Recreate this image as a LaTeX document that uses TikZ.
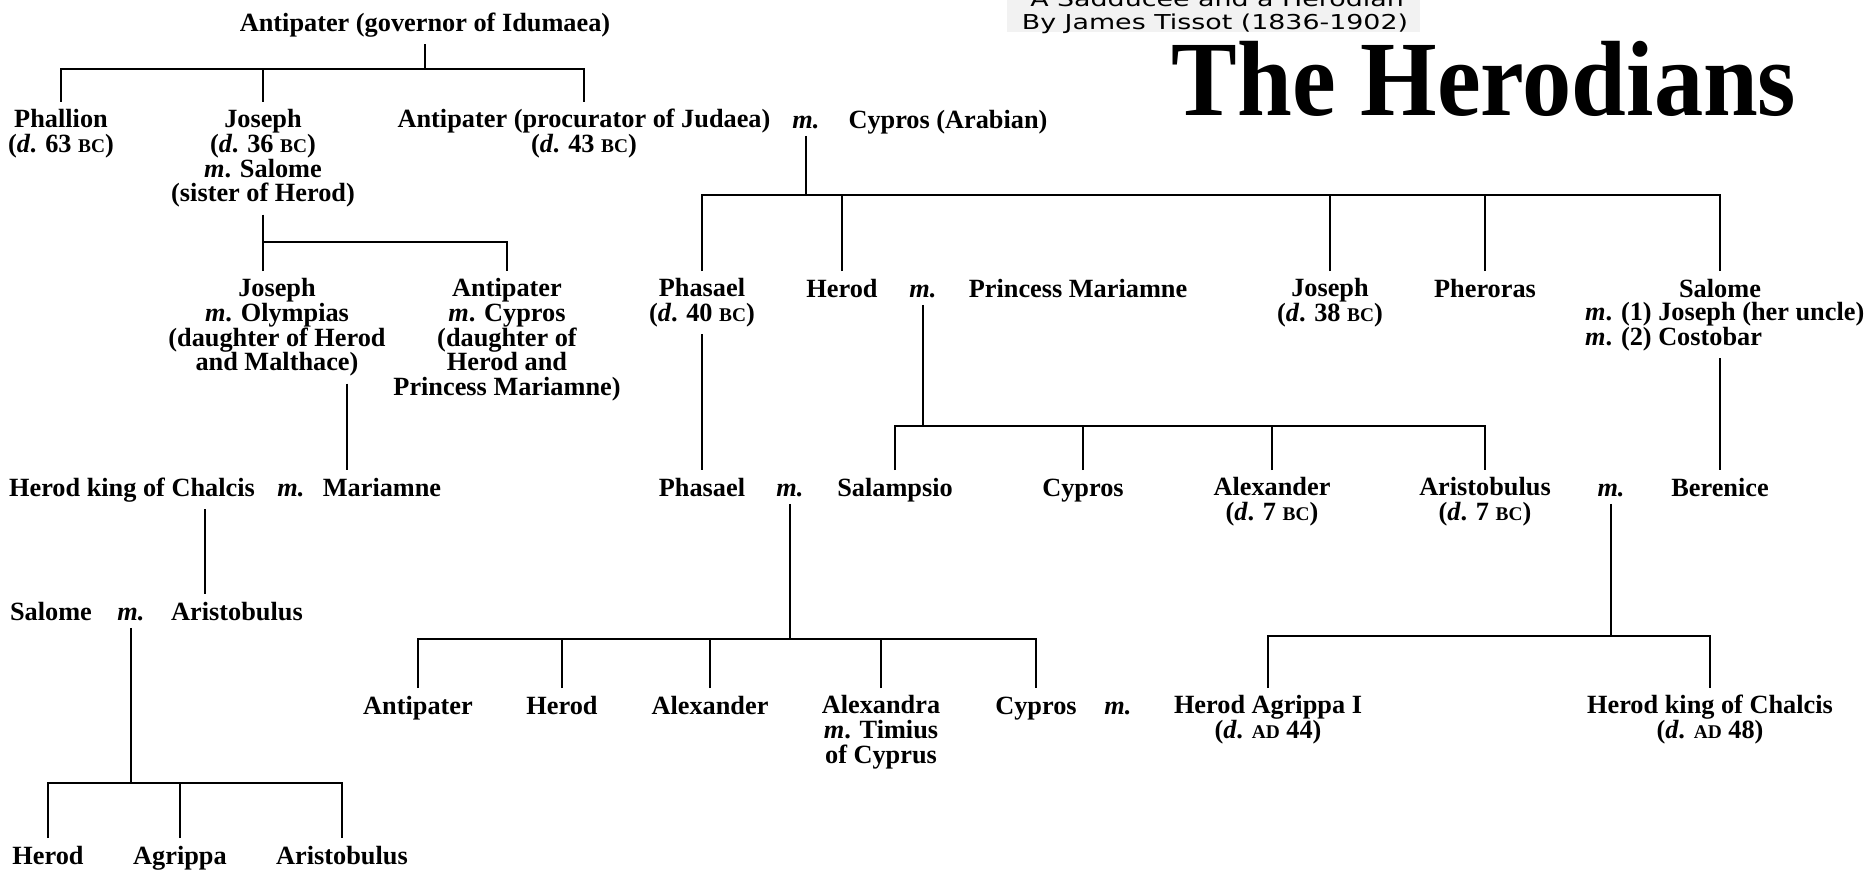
\documentclass[tikz,border=0pt]{standalone}
\usepackage{fontspec}
\setmainfont{Liberation Serif}
\newfontfamily\subfont{DejaVu Sans}
\newcommand\bodyfont{\fontsize{26.3}{24.8}\selectfont\bfseries}
\newcommand\dth{\textit{d}.}
\newcommand\mth{\textit{m}.}
\newcommand\bcx{{\fontsize{19.4}{19.4}\selectfont BC}}
\newcommand\adx{{\fontsize{19.4}{19.4}\selectfont AD}}
\tikzset{
  person/.style={font=\bodyfont, align=center, anchor=north, inner xsep=0pt, inner ysep=7pt, yshift=26pt, execute at begin node={\rule{0pt}{19pt}}},
  marr/.style={person, font=\bodyfont\itshape},
  link/.style={line width=1.8pt},
  subtitle/.style={font=\subfont\fontsize{20.5}{23}\selectfont, anchor=base, inner sep=0pt},
}
\begin{document}
\begin{tikzpicture}[x=1pt,y=-1pt]
\useasboundingbox (0,0) rectangle (1865,872);
\clip (0,0) rectangle (1865,872);
\fill[white] (0,0) rectangle (1865,872);

% title block
\fill[black!5] (1007,0) rectangle (1420,32);
\node[subtitle] (sub1) at (1217,7) {\scalebox{1.31}[1]{A Sadducee and a Herodian}};
\node[subtitle] (sub2) at (1215,30) {\scalebox{1.31}[1]{By James Tissot (1836-1902)}};
\node[font=\fontsize{107}{107}\selectfont\bfseries, anchor=base, inner sep=0pt] (title) at (1484,116) {\scalebox{0.92}[1]{The Herodians}};

% row 0
\node[person] (top) at (425,31) {Antipater (governor of Idumaea)};

% row 1
\node[person] (phal) at (61,128) {Phallion\\(\dth{} 63 \bcx)};
\node[person] (jos1) at (263,128) {Joseph\\(\dth{} 36 \bcx)\\\mth{} Salome\\(sister of Herod)};
\node[person] (antp) at (584,128) {Antipater (procurator of Judaea)\\(\dth{} 43 \bcx)};
\node[marr] (m1) at (806,128) {m.};
\node[person] (cyp1) at (948,128) {Cypros (Arabian)};

% row 2
\node[person] (jos2) at (277,297) {Joseph\\\mth{} Olympias\\(daughter of Herod\\and Malthace)};
\node[person] (antp2) at (507,297) {Antipater\\\mth{} Cypros\\(daughter of\\Herod and\\Princess Mariamne)};
\node[person] (phas1) at (702,297) {Phasael\\(\dth{} 40 \bcx)};
\node[person] (herod) at (842,297) {Herod};
\node[marr] (m2) at (923,297) {m.};
\node[person] (pmar) at (1078,297) {Princess Mariamne};
\node[person] (jos3) at (1330,297) {Joseph\\(\dth{} 38 \bcx)};
\node[person] (pher) at (1485,297) {Pheroras};
\node[person] (sal) at (1720,297) {Salome};
\node[person, anchor=north west, align=left] (salm) at (1585,321) {\mth{} (1) Joseph (her uncle)\\\mth{} (2) Costobar};

% row 3
\node[person] (hkc1) at (132,496) {Herod king of Chalcis};
\node[marr] (m6) at (291,496) {m.};
\node[person] (mar2) at (382,496) {Mariamne};
\node[person] (phas2) at (702,496) {Phasael};
\node[marr] (m3) at (790,496) {m.};
\node[person] (sala) at (895,496) {Salampsio};
\node[person] (cyp3) at (1083,496) {Cypros};
\node[person] (alex3) at (1272,496) {Alexander\\(\dth{} 7 \bcx)};
\node[person] (aris3) at (1485,496) {Aristobulus\\(\dth{} 7 \bcx)};
\node[marr] (m4) at (1611,496) {m.};
\node[person] (ber) at (1720,496) {Berenice};

% row 4
\node[person] (sal4) at (51,620) {Salome};
\node[marr] (m5) at (131,620) {m.};
\node[person] (aris4) at (237,620) {Aristobulus};

% row 5
\node[person] (ant5) at (418,714) {Antipater};
\node[person] (her5) at (562,714) {Herod};
\node[person] (alx5) at (710,714) {Alexander};
\node[person] (alxa5) at (881,714) {Alexandra\\\mth{} Timius\\of Cyprus};
\node[person] (cyp5) at (1036,714) {Cypros};
\node[marr] (m7) at (1118,714) {m.};
\node[person] (hag) at (1268,714) {Herod Agrippa I\\(\dth{} \adx{} 44)};
\node[person] (hkc2) at (1710,714) {Herod king of Chalcis\\(\dth{} \adx{} 48)};

% row 6
\node[person] (h6) at (48,864) {Herod};
\node[person] (agr6) at (180,864) {Agrippa};
\node[person] (ari6) at (342,864) {Aristobulus};

% bus levels and off-centre line positions
\coordinate (b0) at (0,69);
\coordinate (b1) at (0,195);
\coordinate (b2) at (0,242);
\coordinate (b3) at (0,426);
\coordinate (b4) at (0,639);
\coordinate (b5) at (0,636);
\coordinate (b6) at (0,783);
\coordinate (cx1) at (347,0);
\coordinate (cx2) at (205,0);

% family 0
\draw[link] (top.south) -- (top.south |- b0);
\draw[link] (phal.north) |- (antp.north |- b0) -- (antp.north);
\draw[link] (jos1.north) -- (jos1.north |- b0);

% family 1
\draw[link] (m1.south) -- (m1.south |- b1);
\draw[link] (phas1.north) |- (sal.north |- b1) -- (sal.north);
\draw[link] (herod.north) -- (herod.north |- b1);
\draw[link] (jos3.north) -- (jos3.north |- b1);
\draw[link] (pher.north) -- (pher.north |- b1);

% family 2
\draw[link] (jos1.south) -- (jos1.south |- b2);
\draw[link] (jos1.south |- jos2.north) |- (antp2.north |- b2) -- (antp2.north);

% single lines
\draw[link] (jos2.south -| cx1) -- (mar2.north -| cx1);
\draw[link] (phas1.south) -- (phas2.north);
\draw[link] (salm.south -| sal) -- (ber.north);
\draw[link] (hkc1.south -| cx2) -- (aris4.north -| cx2);

% family 3
\draw[link] (m2.south) -- (m2.south |- b3);
\draw[link] (sala.north) |- (aris3.north |- b3) -- (aris3.north);
\draw[link] (cyp3.north) -- (cyp3.north |- b3);
\draw[link] (alex3.north) -- (alex3.north |- b3);

% family 4
\draw[link] (m3.south) -- (m3.south |- b4);
\draw[link] (ant5.north) |- (cyp5.north |- b4) -- (cyp5.north);
\draw[link] (her5.north) -- (her5.north |- b4);
\draw[link] (alx5.north) -- (alx5.north |- b4);
\draw[link] (alxa5.north) -- (alxa5.north |- b4);

% family 5
\draw[link] (m4.south) -- (m4.south |- b5);
\draw[link] (hag.north) |- (hkc2.north |- b5) -- (hkc2.north);

% family 6
\draw[link] (m5.south) -- (m5.south |- b6);
\draw[link] (h6.north) |- (ari6.north |- b6) -- (ari6.north);
\draw[link] (agr6.north) -- (agr6.north |- b6);
\end{tikzpicture}
\end{document}
